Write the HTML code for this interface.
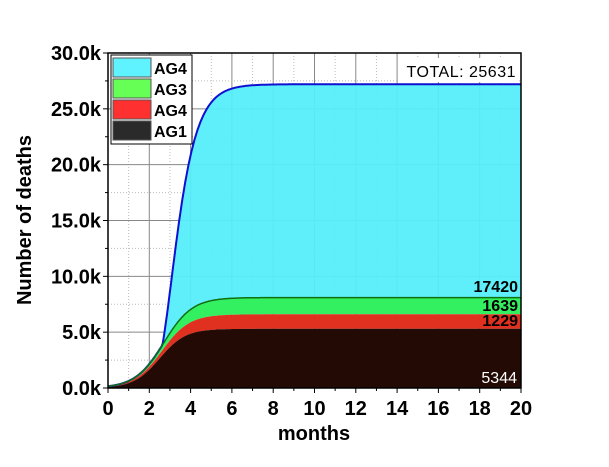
<!DOCTYPE html><html><head><style>body{margin:0;background:#fff}svg{display:block}text{font-family:"Liberation Sans",sans-serif}</style></head><body>
<svg id="s" width="609" height="467" xmlns="http://www.w3.org/2000/svg"></svg>
<script>
const s=document.getElementById('s');
const X0=108,X1=521,Y0=388,Y1=53;
const X=t=>X0+(X1-X0)*t/20, Y=v=>Y0-(Y0-Y1)*v/30;
const L=(A,t0,k)=>t=>A/(1+Math.exp(-k*(t-t0)));
const blk=L(5.3,2.5,1.6),red=L(6.6,2.6,1.5),grn=L(8.1,2.7,1.45);
const cy0=t=>27.2*Math.exp(-2.386*Math.exp(-1.462*(t-2.5)));
const cy=t=>Math.max(cy0(t),grn(t));
function area(f,g){let p='';for(let i=0;i<=400;i++){const t=i/20;p+=(i?'L':'M')+X(t).toFixed(1)+','+Y(f(t)).toFixed(1);}for(let i=400;i>=0;i--){const t=i/20;p+='L'+X(t).toFixed(1)+','+Y(g(t)).toFixed(1);}return p+'Z';}
function line(f){let p='';for(let i=0;i<=400;i++){const t=i/20;p+=(i?'L':'M')+X(t).toFixed(1)+','+Y(f(t)).toFixed(1);}return p;}
let h='';
for(let m=1;m<20;m++){h+=`<line x1="${X(m)}" y1="${Y1}" x2="${X(m)}" y2="${Y0}" stroke="${m%2?'#bbb':'#888'}" stroke-dasharray="${m%2?'1,2':''}" stroke-width="1"/>`;}
for(let v=2.5;v<30;v+=2.5){h+=`<line x1="${X0}" y1="${Y(v)}" x2="${X1}" y2="${Y(v)}" stroke="${v%5?'#bbb':'#888'}" stroke-dasharray="${v%5?'1,2':''}"/>`;}
const z=t=>0;
h+=`<path d="${area(cy,grn)}" fill="#55eefa" fill-opacity="0.95"/>`;
h+=`<path d="${area(grn,red)}" fill="#33f060"/>`;
h+=`<path d="${area(red,blk)}" fill="#e03020"/>`;
h+=`<path d="${area(blk,z)}" fill="#230a05"/>`;
h+=`<path d="${line(cy)}" fill="none" stroke="#1010d0" stroke-width="2"/>`;
h+=`<path d="${line(grn)}" fill="none" stroke="#107010" stroke-width="1.5"/>`;
h+=`<rect x="${X0}" y="${Y1}" width="${X1-X0}" height="${Y0-Y1}" fill="none" stroke="#000" stroke-width="1.5"/>`;
for(let m=0;m<=20;m+=2){h+=`<line x1="${X(m)}" y1="${Y0}" x2="${X(m)}" y2="${Y0+5}" stroke="#000"/><text x="${X(m)}" y="415" font-size="20" font-weight="bold" text-anchor="middle">${m}</text>`;}
for(let m=1;m<20;m+=2)h+=`<line x1="${X(m)}" y1="${Y0}" x2="${X(m)}" y2="${Y0+3}" stroke="#000"/>`;
for(let v=0;v<=30;v+=5){h+=`<line x1="${X0-5}" y1="${Y(v)}" x2="${X0}" y2="${Y(v)}" stroke="#000"/><text x="101" y="${Y(v)+7}" font-size="20" font-weight="bold" text-anchor="end">${v.toFixed(1)}k</text>`;}
for(let v=2.5;v<30;v+=5)h+=`<line x1="${X0-3}" y1="${Y(v)}" x2="${X0}" y2="${Y(v)}" stroke="#000"/>`;
h+=`<text x="314" y="440" font-size="20" font-weight="bold" text-anchor="middle">months</text>`;
h+=`<text transform="translate(31,220) rotate(-90)" font-size="20" font-weight="bold" text-anchor="middle">Number of deaths</text>`;
h+=`<rect x="398" y="58" width="120" height="24" fill="#fff"/><text x="516" y="77" font-size="16" text-anchor="end" letter-spacing="0.5">TOTAL: 25631</text>`;
h+=`<text x="518" y="292" font-size="16" font-weight="bold" text-anchor="end">17420</text><text x="518" y="311" font-size="16" font-weight="bold" text-anchor="end">1639</text><text x="518" y="326" font-size="16" font-weight="bold" text-anchor="end">1229</text><text x="517" y="383" font-size="16" fill="#fff" text-anchor="end">5344</text>`;
h+=`<rect x="111" y="55" width="81" height="89" fill="#fff" stroke="#000"/>`;
const lg=[['#5ef3ff','AG4'],['#66ff55','AG3'],['#ff3030','AG4'],['#2a2a2a','AG1']];
lg.forEach((d,i)=>{const y=58+i*21;h+=`<rect x="113" y="${y}" width="38" height="19" fill="${d[0]}" stroke="#555"/><text x="154" y="${y+16}" font-size="16" font-weight="bold">${d[1]}</text>`;});
s.innerHTML=h;
</script></body></html>
